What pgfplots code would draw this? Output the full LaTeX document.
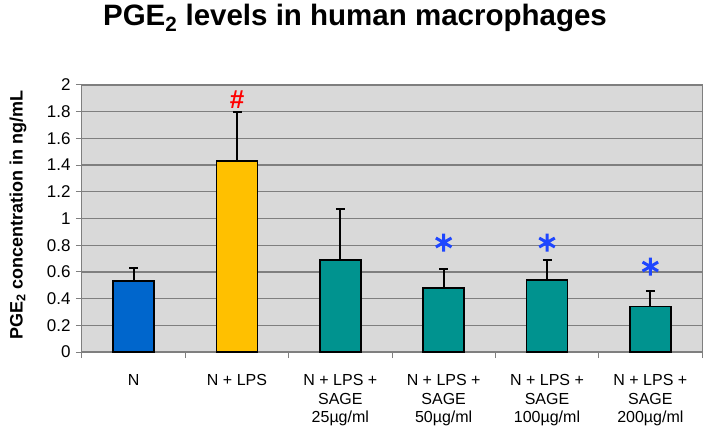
\documentclass[border=0pt]{standalone}
\usepackage{fontspec}
\setmainfont{Liberation Sans}
\usepackage{pgfplots}
\pgfplotsset{compat=1.18}
\definecolor{bgc}{HTML}{D9D9D9}
\definecolor{gridc}{HTML}{7F7F7F}
\definecolor{cN}{HTML}{0066CC}
\definecolor{cLPS}{HTML}{FFC000}
\definecolor{cSAGE}{HTML}{00938F}
\begin{document}
\begin{tikzpicture}
\useasboundingbox (-82pt,-84pt) rectangle (627pt,352pt);
\begin{axis}[
  at={(0,0)}, anchor=south west,
  scale only axis, width=620pt, height=267pt,
  xmin=-0.5, xmax=5.5, ymin=0, ymax=2,
  axis background/.style={fill=bgc},
  axis line style={gridc, line width=1pt},
  ytick={0,0.2,0.4,0.6,0.8,1,1.2,1.4,1.6,1.8,2},
  ymajorgrids, grid style={gridc, line width=1.3pt},
  y tick style={gridc, line width=1pt},
  major tick length=6pt,
  tick align=outside,
  ytick pos=left,
  xtick={0,1,2,3,4,5},
  x tick style={draw=none},
  xtick pos=bottom,
  xticklabels={N, N + LPS, {N + LPS +\\SAGE\\25µg/ml}, {N + LPS +\\SAGE\\50µg/ml}, {N + LPS +\\SAGE\\100µg/ml}, {N + LPS +\\SAGE\\200µg/ml}},
  xticklabel style={align=center, font=\fontsize{16}{18.5}\selectfont, anchor=north, yshift=-13pt},
  yticklabel style={font=\fontsize{17}{18}\selectfont, xshift=-2pt},
  extra x ticks={-0.5,0.5,1.5,2.5,3.5,4.5,5.5},
  extra x tick labels={},
  extra x tick style={x tick style={draw=gridc, line width=1pt}, major tick length=6pt},
  /pgf/number format/assume math mode=true,
  /pgf/number format/fixed,
  clip=false,
  every axis plot/.append style={line join=miter},
]
\addplot[ybar, bar width=41pt, bar shift=0pt, fill=cN, draw=black, line width=1.5pt,
  error bars/.cd, y dir=plus, y explicit,
  error bar style={black, line width=2pt},
  error mark options={black, line width=2pt, mark size=4.5pt, rotate=90}]
  coordinates {(0,0.53) +- (0,0.10)};
\addplot[ybar, bar width=41pt, bar shift=0pt, fill=cLPS, draw=black, line width=1.5pt,
  error bars/.cd, y dir=plus, y explicit,
  error bar style={black, line width=2pt},
  error mark options={black, line width=2pt, mark size=4.5pt, rotate=90}]
  coordinates {(1,1.43) +- (0,0.37)};
\addplot[ybar, bar width=41pt, bar shift=0pt, fill=cSAGE, draw=black, line width=1.5pt,
  error bars/.cd, y dir=plus, y explicit,
  error bar style={black, line width=2pt},
  error mark options={black, line width=2pt, mark size=4.5pt, rotate=90}]
  coordinates {(2,0.69) +- (0,0.38) (3,0.48) +- (0,0.14) (4,0.54) +- (0,0.15) (5,0.34) +- (0,0.12)};
\addplot[only marks, mark=asterisk, mark size=9pt, color={rgb,255:red,30;green,70;blue,255}, line width=3pt]
  coordinates {(3,0.82) (4,0.82) (5,0.64)};
\node[text=red, font=\bfseries\fontsize{26}{28}\selectfont] at (axis cs:1,1.89) {\#};
\end{axis}
\node[rotate=90, font=\bfseries\fontsize{18}{20}\selectfont] at (-64pt,137pt) {PGE\textsubscript{2} concentration in ng/mL};
\node[font=\bfseries\fontsize{29.5}{31}\selectfont] at (273pt,334pt) {PGE\textsubscript{2} levels in human macrophages};
\end{tikzpicture}
\end{document}
